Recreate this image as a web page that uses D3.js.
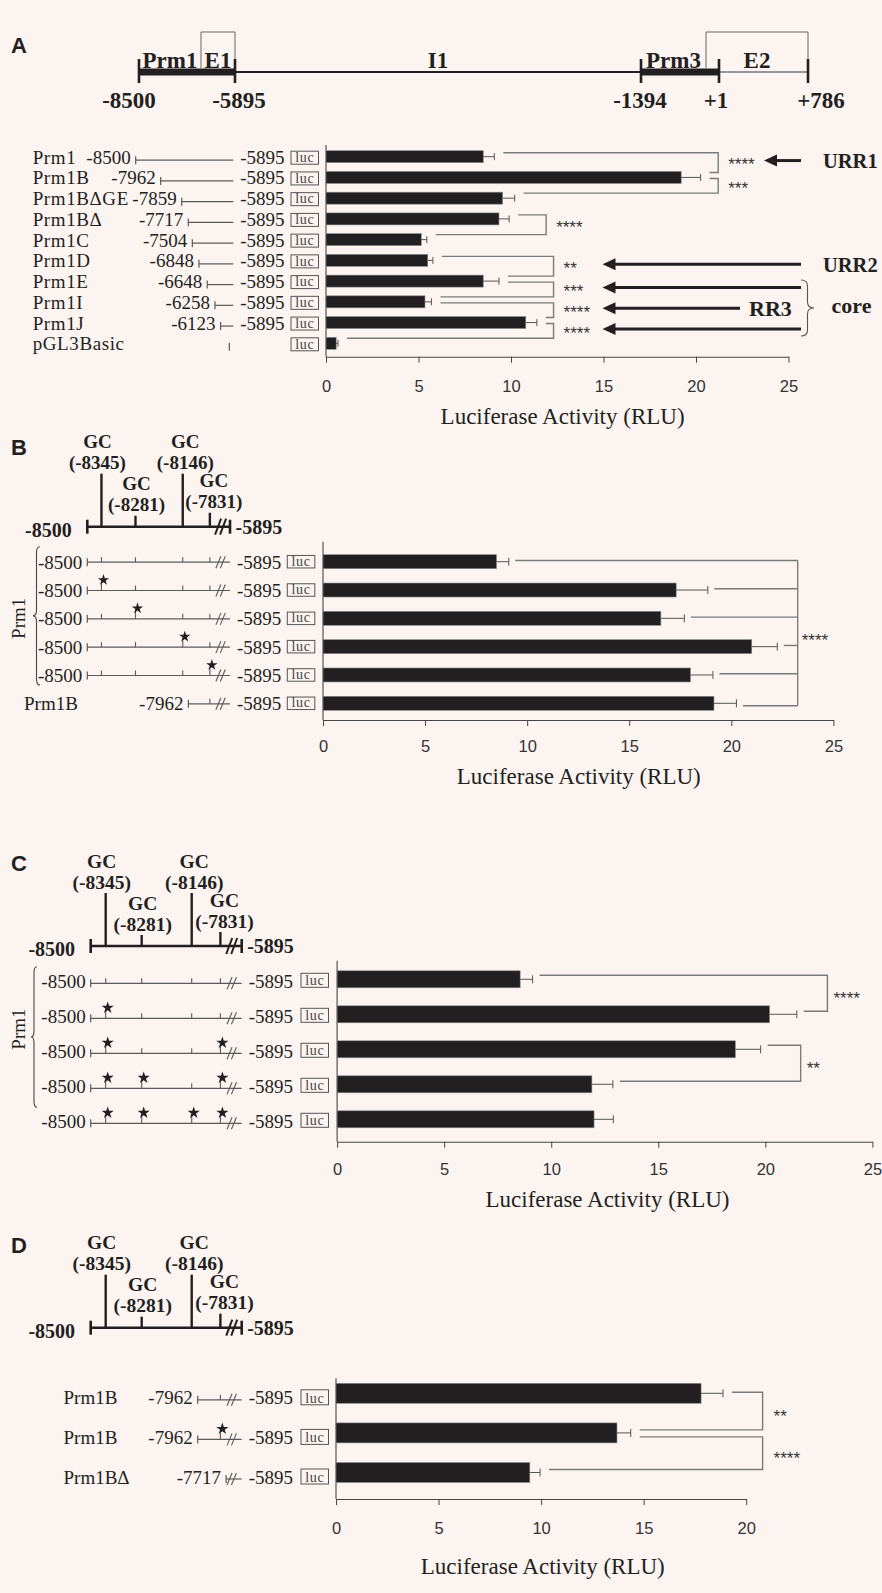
<!DOCTYPE html>
<html><head><meta charset="utf-8">
<script src="https://cdn.jsdelivr.net/npm/d3@7"></script>
<style>html,body{margin:0;padding:0;background:#fcf4f1;} svg{display:block}</style>
</head><body><svg id="fig" width="882" height="1593"></svg>
<script>
// ================= DATA =================
// Panel A gene map
const geneBp = [-8500, -5895, -1394, 1, 786];
const geneLabels = ["-8500", "-5895", "-1394", "+1", "+786"];
const geneRegions = ["Prm1", "E1", "I1", "Prm3", "E2"];
const geneRegionBounds = [[-8500, -6818], [-6818, -5895], [-5895, -1394], [-1394, -231], [-231, 786]];

// Panel A deletion constructs
const aNames = ["Prm1", "Prm1B", "Prm1BΔGE", "Prm1BΔ", "Prm1C", "Prm1D", "Prm1E", "Prm1I", "Prm1J", "pGL3Basic"];
const aStarts = [-8500, -7962, -7859, -7717, -7504, -6848, -6648, -6258, -6123, null];
const aValues = [8.5, 19.2, 9.55, 9.35, 5.15, 5.5, 8.5, 5.35, 10.8, 0.55];
const aErrors = [0.6, 1.05, 0.65, 0.55, 0.3, 0.28, 0.85, 0.35, 0.6, 0.1];
const aTicks = [0, 5, 10, 15, 20, 25];
const aSig = [
  {top: 0, bot: 1, label: "****", at: 21.2},
  {top: 1, bot: 2, label: "***", at: 21.2},
  {top: 3, bot: 4, label: "****", at: 11.9},
  {top: 5, bot: 6, label: "**", at: 12.3},
  {top: 6, bot: 7, label: "***", at: 12.3},
  {top: 7, bot: 8, label: "****", at: 12.3},
  {top: 8, bot: 9, label: "****", at: 12.3}
];
const aRegionNotes = [
  {sig: 0, text: "URR1"},
  {sig: 3, text: "URR2"},
  {sig: 4, text: null},
  {sig: 5, text: "RR3"},
  {sig: 6, text: null}
];
const aCoreLabel = "core";

// GC boxes (panels B-D)
const gcSites = [-8345, -8281, -8146, -7831];
const gcLabels = ["(-8345)", "(-8281)", "(-8146)", "(-7831)"];

// Panel B
const bStarts = [-8500, -8500, -8500, -8500, -8500, -7962];
const bNames = [null, null, null, null, null, "Prm1B"];
const bMutated = [[], [0], [1], [2], [3], []];
const bValues = [8.5, 17.3, 16.55, 21.0, 18.0, 19.15];
const bErrors = [0.6, 1.55, 1.15, 1.25, 1.1, 1.1];
const bTicks = [0, 5, 10, 15, 20, 25];
const bSig = {rows: [0, 1, 2, 3, 4, 5], label: "****", at: 23.25};

// Panel C
const cStarts = [-8500, -8500, -8500, -8500, -8500];
const cMutated = [[], [0], [0, 3], [0, 1, 3], [0, 1, 2, 3]];
const cValues = [8.55, 20.2, 18.6, 11.9, 12.0];
const cErrors = [0.58, 1.27, 1.18, 0.98, 0.9];
const cTicks = [0, 5, 10, 15, 20, 25];
const cSig = [
  {top: 0, bot: 1, label: "****", at: 22.9},
  {top: 2, bot: 3, label: "**", at: 21.65}
];

// Panel D
const dNames = ["Prm1B", "Prm1B", "Prm1BΔ"];
const dStarts = [-7962, -7962, -7717];
const dMutated = [[], [3], []];
const dValues = [17.8, 13.7, 9.45];
const dErrors = [1.07, 0.67, 0.5];
const dTicks = [0, 5, 10, 15, 20];
const dSig = [
  {top: 0, bot: 1, label: "**", at: 20.8},
  {top: 1, bot: 2, label: "****", at: 20.8}
];

const axisTitle = "Luciferase Activity (RLU)";

// ================= LAYOUT (schematic, not data) =================
const GENE_X = [139, 235, 641, 719, 808];
const GENE_LABEL_DX = [-10, 4, -1, -3, 13];
const A_SCHEM_DOMAIN = [-8500, -7962, -7859, -7717, -7504, -6848, -6648, -6258, -6123, -5895];
const A_SCHEM_FRAC = [0, 0.256, 0.471, 0.539, 0.580, 0.648, 0.733, 0.812, 0.870, 1];
const GC_SCHEM_DOMAIN = [-8500, -8345, -8281, -8146, -7962, -7831, -7717, -5895];
const GC_SCHEM_FRAC = [0, 0.0993, 0.3377, 0.6689, 0.7086, 0.8589, 0.8967, 1];
const BREAK_FRAC = 0.934;
const GC_TICK_H = [53, 11, 53, 14];
const GC_LABEL_DX = [-4, 1, 2.5, 4];

// ================= DRAW =================
const INK = "#231f20", LINE = "#5a5a5a", BRK = "#7a7a7a";
const SERIF = "'Liberation Serif','Times New Roman',serif";
const SANS = "'Liberation Sans',Arial,sans-serif";
const svg = d3.select("#fig");
svg.append("rect").attr("width", 882).attr("height", 1593).attr("fill", "#fcf4f1");

function txt(g, x, y, s, o = {}) {
  return g.append("text").attr("x", x).attr("y", y).text(s)
    .attr("font-family", o.family || SERIF).attr("font-size", o.size || 19)
    .attr("font-weight", o.weight || "normal").attr("text-anchor", o.anchor || "start")
    .attr("fill", o.fill || INK);
}
function ln(g, x1, y1, x2, y2, stroke, w) {
  return g.append("line").attr("x1", x1).attr("y1", y1).attr("x2", x2).attr("y2", y2)
    .attr("stroke", stroke).attr("stroke-width", w);
}
function brace(g, x, y1, y2, w, dir, stroke) {
  const ym = (y1 + y2) / 2, r = 6, xm = x + dir * w / 2, xt = x + dir * w;
  const p = `M${x},${y1} Q${xm},${y1} ${xm},${y1 + r} L${xm},${ym - r} Q${xm},${ym} ${xt},${ym} ` +
            `Q${xm},${ym} ${xm},${ym + r} L${xm},${y2 - r} Q${xm},${y2} ${x},${y2}`;
  g.append("path").attr("d", p).attr("fill", "none").attr("stroke", stroke || "#444").attr("stroke-width", 1.1);
}
function panelLetter(x, y, s) {
  txt(svg, x, y, s, {family: SANS, size: 22, weight: "bold"});
}
const starSym = d3.symbol().type(d3.symbolStar);

function barPanel(o) {
  const g = svg.append("g");
  const x = d3.scaleLinear().domain([0, o.max]).range([o.x0, o.x1]);
  const y = d3.scalePoint().domain(d3.range(o.values.length)).range([o.yFirst, o.yLast]);
  const ax = d3.axisBottom(x).tickValues(o.ticks).tickSize(6).tickSizeOuter(0).tickPadding(o.pad);
  const axg = g.append("g").attr("transform", `translate(0,${o.axisY})`).call(ax);
  axg.select(".domain").attr("stroke", "#444").attr("stroke-width", 1.1);
  axg.selectAll(".tick line").attr("stroke", "#444");
  axg.selectAll(".tick text").attr("font-family", SANS).attr("font-size", 16.5).attr("fill", "#333");
  ln(g, o.x0, o.axisTop, o.x0, o.axisY, "#444", 1.1);
  g.selectAll("rect.bar").data(o.values).join("rect").attr("class", "bar")
    .attr("x", x(0)).attr("y", (d, i) => y(i) - o.barH / 2)
    .attr("width", d => x(d) - x(0)).attr("height", o.barH)
    .attr("fill", INK).attr("stroke", "#8a8a8a").attr("stroke-width", 0.6);
  o.values.forEach((v, i) => {
    const xe = x(v + o.errors[i]);
    ln(g, x(v), y(i), xe, y(i), "#555", 1);
    ln(g, xe, y(i) - o.cap / 2, xe, y(i) + o.cap / 2, "#555", 1);
  });
  txt(g, o.titleX, o.titleY, axisTitle, {size: 23, anchor: "middle"});
  return {g, x, y};
}

function sigBrackets(P, o, sigs, cfg) {
  const res = [];
  let prevBot = -1;
  sigs.forEach(s => {
    const bx = P.x(s.at);
    const tShared = s.top === prevBot;
    const ty = P.y(s.top) + (tShared ? cfg.sharedOff : cfg.topOff);
    const by = P.y(s.bot) + cfg.botOff;
    const lt = P.x(o.values[s.top] + o.errors[s.top]) + cfg.gap;
    const lb = P.x(o.values[s.bot] + o.errors[s.bot]) + cfg.gap;
    P.g.append("path").attr("d", `M${lt},${ty} L${bx},${ty} L${bx},${by} L${lb},${by}`)
      .attr("fill", "none").attr("stroke", BRK).attr("stroke-width", 1.4);
    const ly = (ty + by) / 2 + cfg.labelDy;
    txt(P.g, bx + cfg.labelDx, ly + 9.8, s.label, {family: SANS, size: 17, fill: "#333"});
    res.push({y: ly, x: bx});
    prevBot = s.bot;
  });
  return res;
}

function construct(g, o) {
  const ly = o.lineY;
  const px = bp => o.x0 + o.frac(bp) * (o.x1 - o.x0);
  if (o.start != null) {
    const xs = px(o.start), xe = o.x1;
    ln(g, xs, ly, xe, ly, LINE, 1.2);
    ln(g, xs, ly - 4, xs, ly + 4, LINE, 1.2);
    (o.sites || []).forEach((s, k) => {
      if (s <= o.start) return;
      const tx = px(s);
      const starred = (o.stars || []).includes(k);
      ln(g, tx, ly, tx, ly - (starred ? 7 : 5), LINE, 1.1);
      if (starred) g.append("path").attr("d", starSym.size(o.starSize || 34)())
        .attr("transform", `translate(${tx + 2},${ly - 10.5})`).attr("fill", INK);
    });
    if (o.brk) {
      const bx = o.x0 + BREAK_FRAC * (o.x1 - o.x0);
      [-2.2, 2.2].forEach(d => ln(g, bx + d - 2.5, ly + 6, bx + d + 2.5, ly - 6, LINE, 1.1));
    }
    txt(g, xs - 5, o.base, String(o.start), {size: 19, anchor: "end"});
    txt(g, xe + 7, o.base, "-5895", {size: 19});
  } else {
    ln(g, o.x1 - 4, ly - 4, o.x1 - 4, ly + 4, LINE, 1.2);
  }
  if (o.name) txt(g, o.nameX, o.base, o.name, {size: 19}).attr("letter-spacing", o.nameLS || 0);
  g.append("rect").attr("x", o.lucX).attr("y", o.boxC - o.boxH / 2).attr("width", 27.5).attr("height", o.boxH)
    .attr("fill", "none").attr("stroke", "#555").attr("stroke-width", 1);
  txt(g, o.lucX + 13.75, o.boxC + o.boxH / 2 - 2.2, "luc", {size: 14, anchor: "middle", fill: "#444"})
    .attr("letter-spacing", 0.6);
}

function gcHeader(g, o) {
  const px = bp => o.x0 + gcFrac(bp) * (o.x1 - o.x0);
  ln(g, o.x0, o.y, o.x1, o.y, INK, 2.6);
  ln(g, o.x0, o.y - 7, o.x0, o.y + 7, INK, 2.6);
  ln(g, o.x1, o.y - 7, o.x1, o.y + 7, INK, 2.6);
  const bx = o.x0 + BREAK_FRAC * (o.x1 - o.x0);
  [-2.5, 2.5].forEach(d => ln(g, bx + d - 3, o.y + 8, bx + d + 3, o.y - 8, INK, 2));
  gcSites.forEach((s, i) => {
    const x = px(s), top = o.y - GC_TICK_H[i];
    ln(g, x, top, x, o.y, INK, 2.4);
    txt(g, x + GC_LABEL_DX[i], top - 25.3, "GC", {size: o.fs, weight: "bold", anchor: "middle"});
    txt(g, x + GC_LABEL_DX[i], top - 4.3, gcLabels[i], {size: o.fs, weight: "bold", anchor: "middle"});
  });
  txt(g, o.x0 - 15.6, o.y + 10.3, "-8500", {size: 20, weight: "bold", anchor: "end"});
  txt(g, o.x1 + 5.5, o.y + 6.8, "-5895", {size: 20, weight: "bold"});
}
const gcFrac = d3.scaleLinear().domain(GC_SCHEM_DOMAIN).range(GC_SCHEM_FRAC);
const aFrac = d3.scaleLinear().domain(A_SCHEM_DOMAIN).range(A_SCHEM_FRAC);

// ---------- Panel A ----------
panelLetter(11, 53, "A");
{
  const g = svg.append("g");
  const gx = d3.scaleLinear().domain(geneBp).range(GENE_X);
  const gy = 72;
  ln(g, gx(-5895), gy, gx(-1394), gy, INK, 2);
  ln(g, gx(1), gy, gx(786), gy, "#777", 1.6);
  g.append("rect").attr("x", gx(-8500)).attr("y", gy - 3.5).attr("width", gx(-5895) - gx(-8500)).attr("height", 7).attr("fill", INK);
  g.append("rect").attr("x", gx(-1394)).attr("y", gy - 3.5).attr("width", gx(1) - gx(-1394)).attr("height", 7).attr("fill", INK);
  [[geneRegionBounds[1][0], -5895], [geneRegionBounds[4][0], 786]].forEach(([a, b]) => {
    g.append("path").attr("d", `M${gx(a)},${gy - 4} L${gx(a)},32 L${gx(b)},32 L${gx(b)},${gy - 4}`)
      .attr("fill", "none").attr("stroke", "#666").attr("stroke-width", 1);
  });
  geneBp.forEach((bp, i) => {
    ln(g, gx(bp), gy - 13, gx(bp), gy + 11, INK, 2.6);
    txt(g, gx(bp) + GENE_LABEL_DX[i], 108, geneLabels[i], {size: 23, weight: "bold", anchor: "middle"});
  });
  geneRegions.forEach((r, i) => {
    const [a, b] = geneRegionBounds[i];
    txt(g, (gx(a) + gx(b)) / 2, 68, r, {size: 23, weight: "bold", anchor: "middle"});
  });
}
{
  const o = {values: aValues, errors: aErrors, max: 25, x0: 326, x1: 788.5, yFirst: 156.7, yLast: 343.3,
    barH: 12, cap: 7, axisTop: 145, axisY: 356.7, pad: 18, ticks: aTicks, titleX: 562.6, titleY: 424};
  const P = barPanel(o);
  aNames.forEach((n, i) => {
    const yc = P.y(i);
    construct(P.g, {lineY: yc + 3.5, base: yc + 7, x0: 135.7, x1: 233.3, frac: aFrac, start: aStarts[i],
      name: n, nameX: 32.7, nameLS: 0.6, lucX: 291, boxC: yc + 1, boxH: 13});
  });
  const labs = sigBrackets(P, o, aSig, {topOff: -4, sharedOff: 1, botOff: -5, gap: 9, labelDx: 10, labelDy: -2});
  aRegionNotes.forEach(n => {
    const yy = labs[n.sig].y;
    const head = n.sig === 0 ? 764 : 602.5;
    const tail = n.text === "RR3" ? 740 : 801;
    P.g.append("line").attr("x1", head + 9).attr("y1", yy).attr("x2", tail).attr("y2", yy)
      .attr("stroke", INK).attr("stroke-width", 3);
    P.g.append("path").attr("d", `M${head},${yy} L${head + 13},${yy - 6} L${head + 13},${yy + 6} Z`).attr("fill", INK);
    if (n.text) txt(P.g, n.text === "RR3" ? 749 : 823, yy + 7.3, n.text, {size: n.text === "RR3" ? 22 : 20.5, weight: "bold"});
  });
  const y1 = labs[4].y - 7.5, y2 = labs[6].y + 7;
  brace(P.g, 801, y1, y2, 13, 1, "#555");
  txt(P.g, 831.5, (y1 + y2) / 2 + 5.5, aCoreLabel, {size: 22, weight: "bold"});
}

// ---------- Panel B ----------
panelLetter(11, 455, "B");
{
  const o = {values: bValues, errors: bErrors, max: 25, x0: 323, x1: 833.4, yFirst: 561.7, yLast: 703.3,
    barH: 14, cap: 8, axisTop: 541.7, axisY: 720, pad: 14, ticks: bTicks, titleX: 578.8, titleY: 784};
  const P = barPanel(o);
  gcHeader(P.g, {x0: 87.3, x1: 230, y: 526.7, fs: 19});
  bStarts.forEach((s, i) => {
    const yc = P.y(i);
    construct(P.g, {lineY: yc + 0.5, base: yc + 7, x0: 87.3, x1: 230, frac: gcFrac, start: s,
      sites: gcSites, stars: bMutated[i], brk: true, name: bNames[i], nameX: 24,
      lucX: 287.3, boxC: yc, boxH: 12.5, starSize: 40});
  });
  brace(P.g, 40, P.y(0) - 15, P.y(4) + 10, 7, -1, "#444");
  txt(P.g, 25, (P.y(0) + P.y(4)) / 2, "Prm1", {size: 19, anchor: "middle"})
    .attr("transform", `rotate(-90,25,${(P.y(0) + P.y(4)) / 2})`);
  const bx = P.x(bSig.at);
  const ys = bSig.rows.map(r => P.y(r) + (r === bSig.rows[bSig.rows.length - 1] ? 2.4 : -1.2));
  bSig.rows.forEach((r, k) => {
    ln(P.g, P.x(bValues[r] + bErrors[r]) + 6.5, ys[k], bx, ys[k], BRK, 1.4);
  });
  ln(P.g, bx, ys[0], bx, ys[ys.length - 1], BRK, 1.4);
  txt(P.g, bx + 4, (ys[0] + ys[ys.length - 1]) / 2 + 3 + 9.8, bSig.label, {family: SANS, size: 17, fill: "#333"});
}

// ---------- Panel C ----------
panelLetter(11, 871, "C");
{
  const o = {values: cValues, errors: cErrors, max: 25, x0: 337.1, x1: 872.4, yFirst: 979.3, yLast: 1119.3,
    barH: 17, cap: 8, axisTop: 960.7, axisY: 1141.7, pad: 15.5, ticks: cTicks, titleX: 607.5, titleY: 1207};
  const P = barPanel(o);
  gcHeader(P.g, {x0: 90.7, x1: 241.7, y: 946, fs: 19.5});
  cStarts.forEach((s, i) => {
    const yc = P.y(i);
    construct(P.g, {lineY: yc + 4, base: yc + 9, x0: 90.7, x1: 241.7, frac: gcFrac, start: s,
      sites: gcSites, stars: cMutated[i], brk: true, lucX: 301, boxC: yc + 1, boxH: 14, starSize: 46});
  });
  brace(P.g, 37, P.y(0) - 12.5, P.y(3) + 23, 6, -1, "#444");
  const my = (P.y(0) - 12.5 + P.y(3) + 23) / 2 - 8;
  txt(P.g, 25, my, "Prm1", {size: 19, anchor: "middle"}).attr("transform", `rotate(-90,25,${my})`);
  sigBrackets(P, o, cSig, {topOff: -4, sharedOff: 2, botOff: -3, gap: 7, labelDx: 6, labelDy: 1});
}

// ---------- Panel D ----------
panelLetter(11, 1253, "D");
{
  const o = {values: dValues, errors: dErrors, max: 20, x0: 336, x1: 746.2, yFirst: 1393.3, yLast: 1472.5,
    barH: 20, cap: 8, axisTop: 1378.3, axisY: 1499, pad: 17, ticks: dTicks, titleX: 542.8, titleY: 1574};
  const P = barPanel(o);
  gcHeader(P.g, {x0: 90.7, x1: 241.7, y: 1327.7, fs: 19.5});
  dStarts.forEach((s, i) => {
    const yc = P.y(i);
    construct(P.g, {lineY: yc + 6.5, base: yc + 11, x0: 90.7, x1: 241.7, frac: gcFrac, start: s,
      sites: gcSites, stars: dMutated[i], brk: true, name: dNames[i], nameX: 63.5,
      lucX: 301, boxC: yc + 4, boxH: 15, starSize: 46});
  });
  sigBrackets(P, o, dSig, {topOff: -1, sharedOff: 4, botOff: -3, gap: 9, labelDx: 11, labelDy: 1});
}
</script></body></html>
